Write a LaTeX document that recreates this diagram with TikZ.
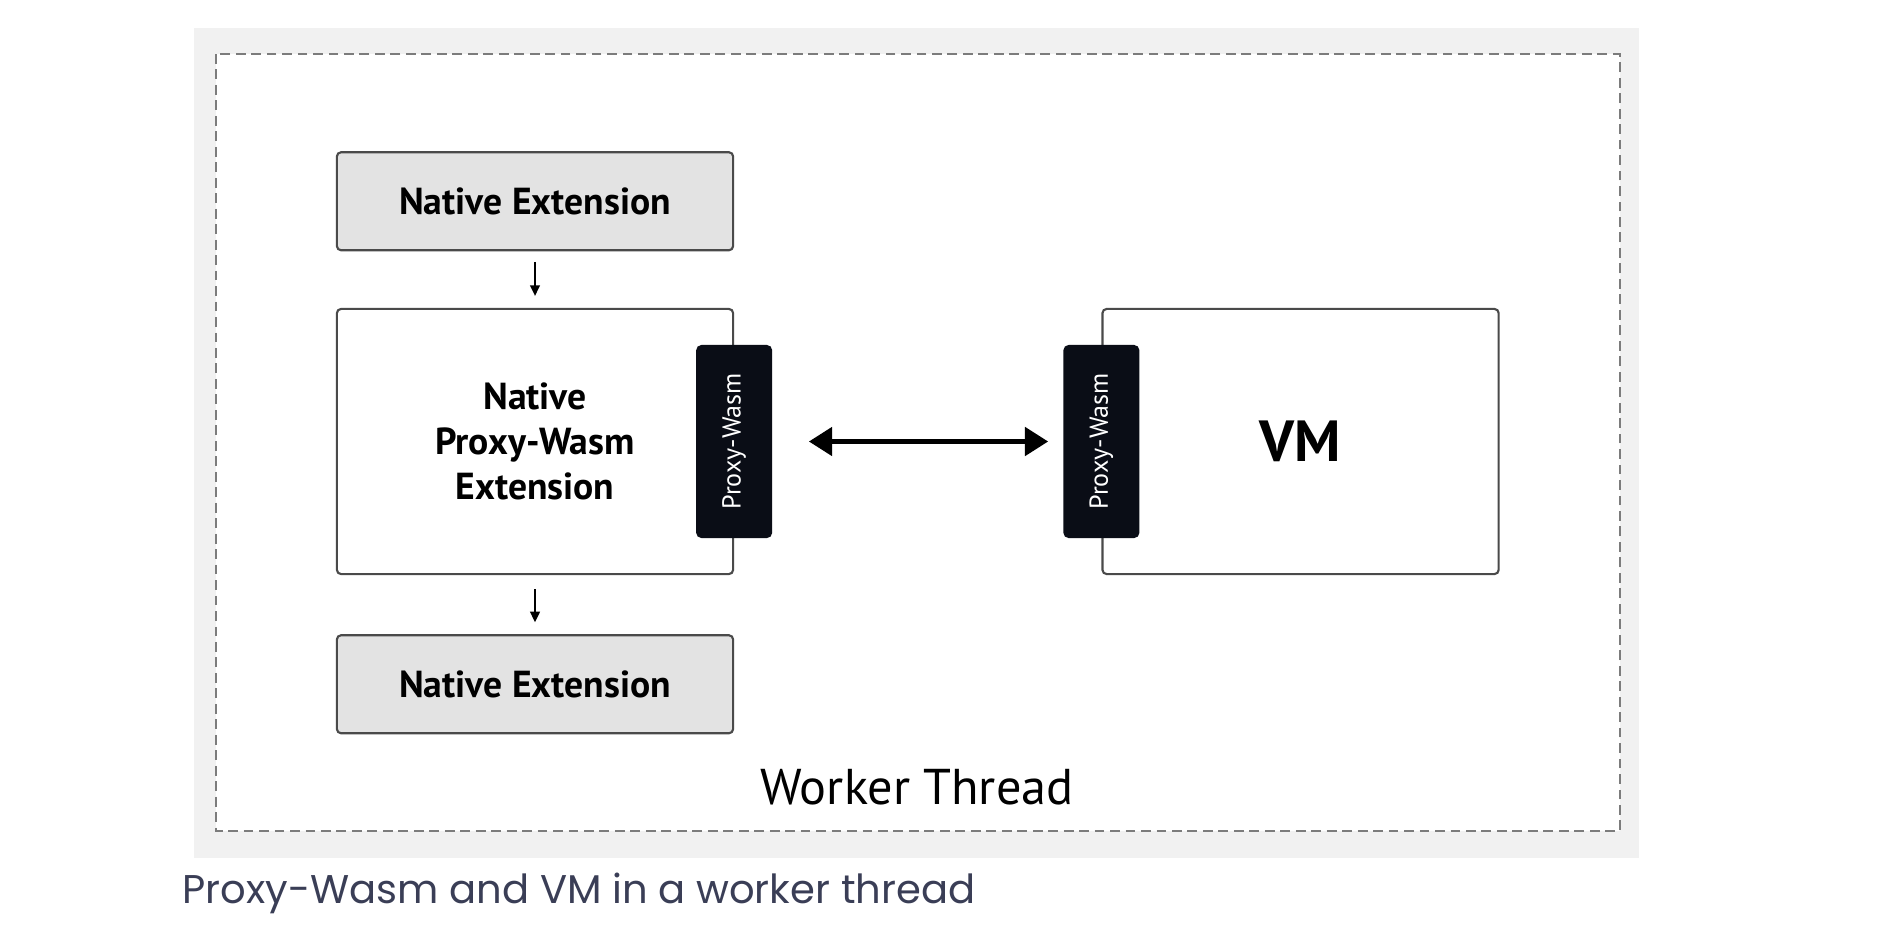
\documentclass[tikz,border=0pt]{standalone}
\usepackage{fontspec}
\usepackage{xcolor}
\usetikzlibrary{arrows.meta, positioning}

\newfontfamily\diagfont{PT Sans}
\newfontfamily\captionfont{Poppins}

\definecolor{bggray}{HTML}{F1F1F1}
\definecolor{dashgray}{HTML}{7C7C7C}
\definecolor{boxline}{HTML}{4A4A4A}
\definecolor{extgray}{HTML}{E3E3E3}
\definecolor{tabblack}{HTML}{0A0D16}
\definecolor{captext}{HTML}{3A3E56}

\begin{document}
\begin{tikzpicture}[
    x=0.01cm, y=-0.01cm,
    box/.style={
        draw=boxline, rectangle, rounded corners=1.2pt, line width=0.6pt,
        minimum width=3.96cm, inner sep=0pt, align=center,
        font=\diagfont\bfseries\fontsize{10.7}{12.7}\selectfont
    },
    ext/.style={box, fill=extgray, minimum height=0.98cm},
    host/.style={box, fill=white, minimum height=2.65cm},
    tab/.style={
        rectangle, rounded corners=1.5pt, fill=tabblack, text=white,
        minimum width=0.76cm, minimum height=1.93cm, inner sep=0pt,
        font=\diagfont\fontsize{7.4}{9}\selectfont
    },
    arrow/.style={-{Triangle[length=3pt,width=2.8pt]}, line width=0.5pt},
    bigarrow/.style={{Triangle[length=6.6pt,width=8pt]}-{Triangle[length=6.6pt,width=8pt]}, line width=1.3pt}
]
\useasboundingbox (0,0) rectangle (1894,930);

% --- Frame: gray backdrop and dashed worker thread border
\fill [bggray] (194,28) rectangle (1639,858);
\draw [dashgray, fill=white, line width=0.8pt, dash pattern=on 2.8pt off 1.6pt] (216,54) rectangle (1620,831);

% --- Left column: Native Extension -> Native Proxy-Wasm Extension -> Native Extension
\node (npw)    [host]  at (535,441.5)           {Native\\Proxy-Wasm\\Extension};
\node (nettop) [ext, above=0.565cm of npw]      {Native Extension};
\node (netbot) [ext, below=0.59cm of npw]       {Native Extension};

% --- Right: VM host
\node (vm)     [host, right=3.67cm of npw, font=\diagfont\bfseries\fontsize{16.5}{18}\selectfont] {VM};

% --- Proxy-Wasm tabs on the facing edges
\node (tabl)   [tab] at (npw.east) {\rotatebox{90}{Proxy-Wasm}};
\node (tabr)   [tab] at (vm.west)  {\rotatebox{90}{Proxy-Wasm}};

% --- Arrows
\draw [arrow, shorten <=0.105cm, shorten >=0.12cm] (nettop) -- (npw);
\draw [arrow, shorten <=0.14cm, shorten >=0.12cm]  (npw) -- (netbot);
\draw [bigarrow, shorten <=0.36cm, shorten >=0.145cm] (tabl) -- (tabr);

% --- Labels
\node (worker)  at (917,787) {\diagfont\fontsize{14.3}{16}\selectfont Worker Thread};
\node (caption) [anchor=west, inner sep=0pt, text=captext] at (182,893)
    {\captionfont\fontsize{11.4}{14}\selectfont Proxy-Wasm and VM in a worker thread};

\end{tikzpicture}
\end{document}
